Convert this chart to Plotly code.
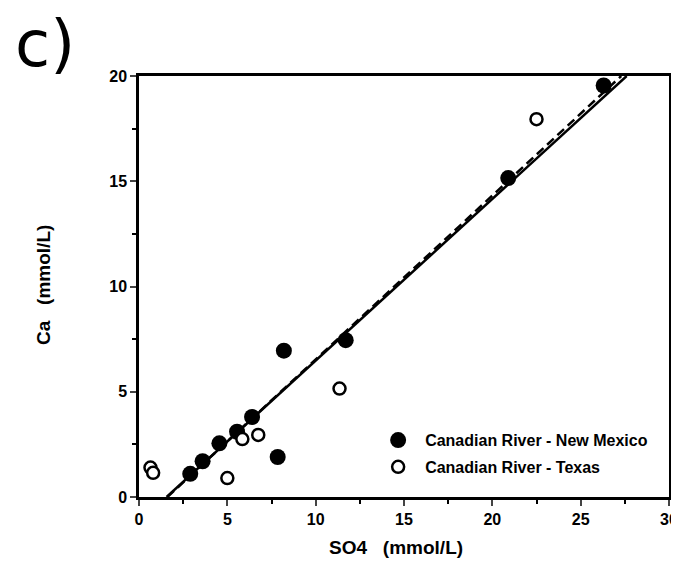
import plotly.graph_objects as go

# Canadian River - New Mexico (filled)
nm_so4 = [2.9, 3.6, 4.55, 5.55, 6.4, 7.85, 8.2, 11.7, 20.9, 26.3]
nm_ca = [1.1, 1.7, 2.55, 3.1, 3.8, 1.9, 6.95, 7.45, 15.15, 19.55]
# Canadian River - Texas (open)
tx_so4 = [0.65, 0.8, 5.0, 5.85, 6.75, 11.35, 22.5]
tx_ca = [1.4, 1.15, 0.9, 2.75, 2.95, 5.15, 17.95]

# regression lines (slope, intercept)
solid_fit = (0.768, -1.2)
dashed_fit = (0.7785, -1.25)

x_ticks = [0, 5, 10, 15, 20, 25, 30]
y_ticks = [0, 5, 10, 15, 20]

def line_pts(fit):
    m, b = fit
    x0 = (0 - b) / m
    x1 = (20 - b) / m
    return [x0, x1], [0, 20]

fig = go.Figure()
sx, sy = line_pts(solid_fit)
dx, dy = line_pts(dashed_fit)
fig.add_trace(go.Scatter(x=dx, y=dy, mode="lines", showlegend=False,
                         line=dict(color="black", width=2.5, dash="9px,5px")))
fig.add_trace(go.Scatter(x=sx, y=sy, mode="lines", showlegend=False,
                         line=dict(color="black", width=2.5)))
fig.add_trace(go.Scatter(x=nm_so4, y=nm_ca, mode="markers",
                         name="<b>Canadian River - New Mexico</b>", legendgroup="nm",
                         marker=dict(symbol="circle", size=16, color="black",
                                     line=dict(color="black", width=0))))
fig.add_trace(go.Scatter(x=tx_so4, y=tx_ca, mode="markers",
                         name="<b>Canadian River - Texas</b>", legendgroup="tx",
                         marker=dict(symbol="circle", size=12, color="white",
                                     line=dict(color="black", width=2.5))))

fig.update_layout(
    width=679, height=573,
    margin=dict(l=131, r=18, t=68, b=84, autoexpand=False),
    paper_bgcolor="white", plot_bgcolor="white",
    font=dict(family="Liberation Sans", size=16, color="black"),
    legend=dict(x=0.438, y=0.103, xanchor="left", yanchor="middle",
                bgcolor="rgba(0,0,0,0)", itemwidth=44,
                font=dict(family="Liberation Sans", size=16, color="black"),
                tracegroupgap=3),
    xaxis=dict(range=[0, 30], tickvals=x_ticks,
               ticktext=[f"<b>{v}</b>" for v in x_ticks],
               showgrid=False, zeroline=False, showline=True, linecolor="black",
               linewidth=2.5, mirror=True, ticks="outside", ticklen=6, tickwidth=2,
               minor=dict(dtick=2.5, ticks="outside", ticklen=4, tickwidth=2, tickcolor="black"),
               automargin=False),
    yaxis=dict(range=[0, 20], tickvals=y_ticks,
               ticktext=[f"<b>{v}</b>" for v in y_ticks],
               showgrid=False, zeroline=False, showline=True, linecolor="black",
               linewidth=2.5, mirror=True, ticks="outside", ticklen=6, tickwidth=2,
               minor=dict(dtick=2.5, ticks="outside", ticklen=4, tickwidth=2, tickcolor="black"),
               automargin=False),
)
# axis titles
fig.add_annotation(text="<b>SO4\u00a0\u00a0\u00a0(mmol/L)</b>", xref="paper", yref="paper",
                   x=(396 - 139) / 530, y=-(547 - 497) / 421,
                   xanchor="center", yanchor="middle", showarrow=False,
                   font=dict(family="Liberation Sans", size=19, color="black"))
fig.add_annotation(text="<b>Ca\u00a0\u00a0\u00a0(mmol/L)</b>", xref="paper", yref="paper",
                   x=-(139 - 43) / 530, y=(497 - 285) / 421, textangle=-90,
                   xanchor="center", yanchor="middle", showarrow=False,
                   font=dict(family="Liberation Sans", size=19, color="black"))
# panel label
fig.add_annotation(text="c)", xref="paper", yref="paper",
                   x=-(139 - 45) / 530, y=(497 - 44) / 421,
                   xanchor="center", yanchor="middle", showarrow=False,
                   font=dict(family="DejaVu Sans", size=64, color="black"))
fig.write_html("out.html")
